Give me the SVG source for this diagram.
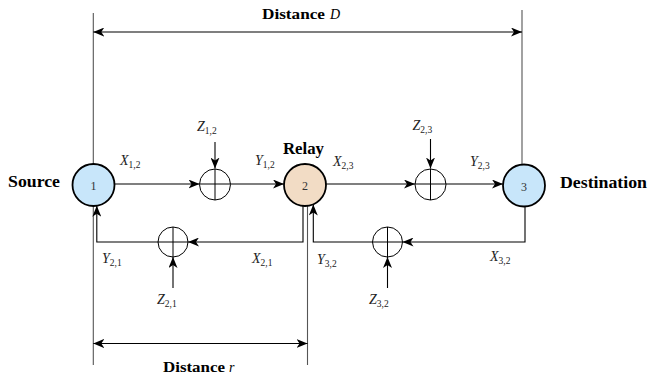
<svg xmlns="http://www.w3.org/2000/svg" width="651" height="376" viewBox="0 0 651 376">
<style>
.ln{fill:none;stroke:#000;stroke-width:1.1}
.ext{fill:none;stroke:#555;stroke-width:1.1}
.node{stroke:#000;stroke-width:1.8}
.n1{fill:#c8e6fa}
.n2{fill:#f2dcc5}
.sum{fill:none;stroke:#000;stroke-width:1}
text{font-family:'Liberation Serif','DejaVu Serif','Times New Roman',Times,serif}
.num{font-size:12px;fill:#333;text-anchor:middle}
.lbl{font-size:17px;font-weight:bold;fill:#000}
.dist{font-size:14px;font-weight:bold;fill:#000}
.m{font-size:14px;font-style:italic;fill:#222}
.sub{font-size:9.5px;font-style:normal}
</style>
<defs>
<marker id="ah" markerUnits="userSpaceOnUse" markerWidth="12" markerHeight="9" refX="11" refY="4.5" orient="auto-start-reverse">
<path d="M0,0 L11,4.5 L0,9 L3,4.5 z" fill="#000"/>
</marker>
</defs>

<g id="connectors">
<line class="ext" x1="93.3" y1="13" x2="93.3" y2="164"/>
<line class="ext" x1="522" y1="10" x2="522" y2="164"/>
<line class="ext" x1="93.3" y1="206" x2="93.3" y2="365"/>
<line class="ext" x1="307.5" y1="206" x2="307.5" y2="365"/>
<line class="ln" x1="93.3" y1="32" x2="522" y2="32" marker-start="url(#ah)" marker-end="url(#ah)"/>
<line class="ln" x1="93.3" y1="343.5" x2="307.5" y2="343.5" marker-start="url(#ah)" marker-end="url(#ah)"/>
<line class="ln" x1="114.5" y1="184" x2="199.5" y2="184" marker-end="url(#ah)"/>
<line class="ln" x1="230.5" y1="184" x2="284" y2="184" marker-end="url(#ah)"/>
<line class="ln" x1="326" y1="184" x2="415" y2="184" marker-end="url(#ah)"/>
<line class="ln" x1="446" y1="184" x2="503" y2="184" marker-end="url(#ah)"/>
<line class="ln" x1="215" y1="142" x2="215" y2="168.5" marker-end="url(#ah)"/>
<line class="ln" x1="430.5" y1="139" x2="430.5" y2="168.5" marker-end="url(#ah)"/>
<polyline class="ln" points="303,206 303,242 188,242" marker-end="url(#ah)"/>
<polyline class="ln" points="158,242 96.8,242 96.8,205.8" marker-end="url(#ah)"/>
<polyline class="ln" points="525,206 525,242 402.5,242" marker-end="url(#ah)"/>
<polyline class="ln" points="372.5,242 313.3,242 313.3,204.5" marker-end="url(#ah)"/>
<line class="ln" x1="173" y1="288" x2="173" y2="257" marker-end="url(#ah)"/>
<line class="ln" x1="387.5" y1="288" x2="387.5" y2="257" marker-end="url(#ah)"/>
</g>

<g id="sum12">
<circle class="sum" cx="215" cy="184.5" r="15.5"/>
<line class="sum" x1="199.5" y1="184" x2="230.5" y2="184"/>
<line class="sum" x1="215" y1="169" x2="215" y2="200"/>
</g>
<g id="sum23">
<circle class="sum" cx="430.5" cy="184.5" r="15.5"/>
<line class="sum" x1="415" y1="184" x2="446" y2="184"/>
<line class="sum" x1="430.5" y1="169" x2="430.5" y2="200"/>
</g>
<g id="sum21">
<circle class="sum" cx="173" cy="242" r="15"/>
<line class="sum" x1="158" y1="242" x2="188" y2="242"/>
<line class="sum" x1="173" y1="227" x2="173" y2="257"/>
</g>
<g id="sum32">
<circle class="sum" cx="387.5" cy="242" r="15"/>
<line class="sum" x1="372.5" y1="242" x2="402.5" y2="242"/>
<line class="sum" x1="387.5" y1="227" x2="387.5" y2="257"/>
</g>

<g id="node1">
<circle class="node n1" cx="93.5" cy="185" r="21"/>
<text class="num" x="93.5" y="190">1</text>
<text class="lbl" x="8" y="187" textLength="52" lengthAdjust="spacingAndGlyphs">Source</text>
</g>
<g id="node2">
<circle class="node n2" cx="305" cy="185" r="21"/>
<text class="num" x="305" y="190">2</text>
<text class="lbl" x="283" y="154" textLength="41" lengthAdjust="spacingAndGlyphs">Relay</text>
</g>
<g id="node3">
<circle class="node n1" cx="524" cy="185.5" r="21"/>
<text class="num" x="524" y="190.5">3</text>
<text class="lbl" x="560" y="188" textLength="87" lengthAdjust="spacingAndGlyphs">Destination</text>
</g>

<g id="labels">
<text class="dist" x="262" y="19"><tspan textLength="63" lengthAdjust="spacingAndGlyphs">Distance</tspan><tspan font-style="italic" font-weight="normal" dx="5">D</tspan></text>
<text class="dist" x="163" y="372" font-size="13"><tspan textLength="62" lengthAdjust="spacingAndGlyphs">Distance</tspan><tspan font-style="italic" font-weight="normal" dx="4">r</tspan></text>

<text class="m" x="120" y="165">X<tspan class="sub" dy="3">1,2</tspan></text>
<text class="m" x="255" y="165">Y<tspan class="sub" dy="3">1,2</tspan></text>
<text class="m" x="197" y="131">Z<tspan class="sub" dy="3">1,2</tspan></text>
<text class="m" x="333" y="166">X<tspan class="sub" dy="3">2,3</tspan></text>
<text class="m" x="412.5" y="130">Z<tspan class="sub" dy="3">2,3</tspan></text>
<text class="m" x="470" y="166">Y<tspan class="sub" dy="3">2,3</tspan></text>
<text class="m" x="102" y="263">Y<tspan class="sub" dy="3">2,1</tspan></text>
<text class="m" x="252" y="263">X<tspan class="sub" dy="3">2,1</tspan></text>
<text class="m" x="157" y="304">Z<tspan class="sub" dy="3">2,1</tspan></text>
<text class="m" x="317" y="264">Y<tspan class="sub" dy="3">3,2</tspan></text>
<text class="m" x="490" y="261">X<tspan class="sub" dy="3">3,2</tspan></text>
<text class="m" x="369" y="304">Z<tspan class="sub" dy="3">3,2</tspan></text>
</g>
</svg>
